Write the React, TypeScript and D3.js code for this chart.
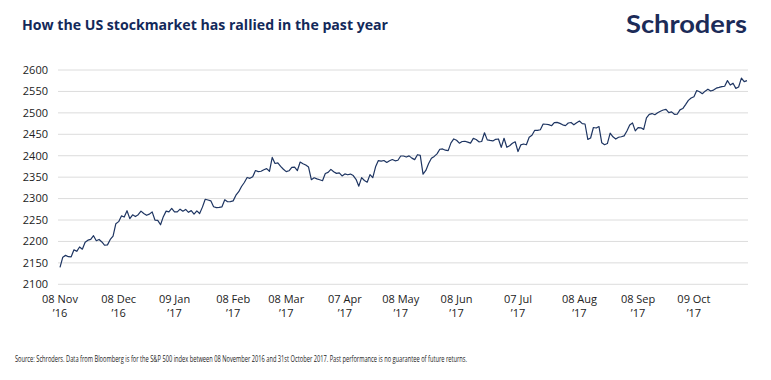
import React from "react";
import * as d3 from "d3";

// S&P 500 daily closes, 08 Nov 2016 – 31 Oct 2017 (one value per trading day)
const nov16 = [2139.56, 2163.26, 2167.48, 2164.45, 2164.2, 2180.39, 2176.94, 2187.12, 2181.9, 2198.18, 2202.94, 2204.72, 2213.35, 2201.72, 2204.66, 2198.81];
const dec16 = [2191.08, 2191.95, 2204.71, 2212.23, 2241.35, 2246.19, 2259.53, 2256.96, 2271.72, 2253.28, 2262.03, 2258.07, 2262.53, 2270.76, 2265.18, 2260.96, 2263.79, 2268.88, 2249.92, 2249.26, 2238.83];
const jan17 = [2257.83, 2270.75, 2269.0, 2276.98, 2268.9, 2268.9, 2275.32, 2270.44, 2274.64, 2267.89, 2271.89, 2263.69, 2271.31, 2265.2, 2280.07, 2298.37, 2296.68, 2294.69, 2280.9, 2278.87];
const feb17 = [2279.55, 2280.85, 2297.42, 2292.56, 2293.08, 2294.67, 2307.87, 2316.1, 2328.25, 2337.58, 2349.25, 2347.22, 2351.16, 2365.38, 2362.82, 2363.81, 2367.34, 2369.75, 2363.64];
const mar17 = [2395.96, 2381.92, 2383.12, 2375.31, 2368.39, 2362.98, 2364.87, 2372.6, 2373.47, 2365.45, 2385.26, 2381.38, 2378.25, 2373.47, 2344.02, 2348.45, 2345.96, 2343.98, 2341.59, 2358.57, 2361.13, 2368.06, 2362.72];
const apr17 = [2358.84, 2360.16, 2352.95, 2357.49, 2355.54, 2357.16, 2353.78, 2344.93, 2328.95, 2349.01, 2342.19, 2338.17, 2355.84, 2348.69, 2374.15, 2388.61, 2387.45, 2388.77, 2384.2];
const may17 = [2388.33, 2391.17, 2388.13, 2389.52, 2399.29, 2399.38, 2396.92, 2399.63, 2394.44, 2390.9, 2402.32, 2400.67, 2357.03, 2365.72, 2381.73, 2394.02, 2398.42, 2404.39, 2415.07, 2415.82, 2412.91, 2411.8];
const jun17 = [2430.06, 2439.07, 2436.1, 2429.33, 2433.14, 2433.79, 2431.77, 2429.39, 2440.35, 2437.92, 2432.46, 2433.15, 2453.46, 2437.03, 2435.61, 2434.5, 2438.3, 2439.07, 2419.38, 2440.69, 2419.7, 2423.41];
const jul17 = [2429.01, 2432.54, 2409.75, 2425.18, 2427.43, 2425.53, 2443.25, 2447.83, 2459.27, 2459.14, 2460.61, 2473.83, 2473.45, 2472.54, 2469.91, 2477.13, 2477.83, 2475.42, 2472.1, 2470.3];
const aug17 = [2476.35, 2477.57, 2472.16, 2476.83, 2480.91, 2474.92, 2474.02, 2438.21, 2441.32, 2465.84, 2464.61, 2468.11, 2430.01, 2425.55, 2428.37, 2452.51, 2444.04, 2438.97, 2443.05, 2444.24, 2446.3, 2457.59, 2471.65];
const sep17 = [2476.55, 2457.85, 2465.54, 2465.1, 2461.43, 2488.11, 2496.48, 2498.37, 2495.62, 2500.23, 2503.87, 2506.65, 2508.24, 2500.6, 2502.22, 2496.66, 2496.84, 2507.04, 2510.06, 2519.36];
const oct17 = [2529.12, 2534.58, 2537.74, 2552.07, 2549.33, 2544.73, 2550.64, 2555.24, 2550.93, 2553.17, 2557.64, 2559.36, 2561.26, 2562.1, 2575.21, 2564.98, 2569.13, 2557.15, 2560.4, 2581.07, 2572.83, 2575.26];

const closes = [...nov16, ...dec16, ...jan17, ...feb17, ...mar17, ...apr17, ...may17, ...jun17, ...jul17, ...aug17, ...sep17, ...oct17];

const yTicks = [2100, 2150, 2200, 2250, 2300, 2350, 2400, 2450, 2500, 2550, 2600];
const tickDay = ["08 Nov", "08 Dec", "09 Jan", "08 Feb", "08 Mar", "07 Apr", "08 May", "08 Jun", "07 Jul", "08 Aug", "08 Sep", "09 Oct"];
const tickYear = ["\u201916", "\u201916", "\u201917", "\u201917", "\u201917", "\u201917", "\u201917", "\u201917", "\u201917", "\u201917", "\u201917", "\u201917"];
const tickIndex = [0, 21, 41, 62, 81, 102, 122, 142, 164, 186, 207, 227];

const TITLE = "How the US stockmarket has rallied in the past year";
const SOURCE = "Source: Schroders. Data from Bloomberg is for the S&P 500 index between 08 November 2016 and 31st October 2017. Past performance is no guarantee of future returns.";

const W = 771;
const H = 380;
const FONT = "'Open Sans', 'Noto Sans', sans-serif";
const NAVY = "#1e3562";

export default function App() {
  const x = d3.scaleLinear().domain([0, closes.length - 1]).range([60, 747]);
  const y = d3.scaleLinear().domain([2100, 2600]).range([284.3, 70]);
  const line = d3
    .line<number>()
    .x((_, i) => x(i))
    .y((d) => y(d));

  return (
    <svg
      width={W}
      height={H}
      viewBox={`0 0 ${W} ${H}`}
      style={{ position: "absolute", left: 0, top: 0, background: "#fff" }}
    >
      <rect width={W} height={H} fill="#fff" />
      <text x={22} y={30} fontFamily={FONT} fontWeight={700} fontSize={14} fill="#13295a" textLength={366} lengthAdjust="spacingAndGlyphs">
        {TITLE}
      </text>
      <text
        x={626}
        y={32.5}
        fontFamily="Lato, 'Open Sans', sans-serif"
        fontWeight={700}
        fontSize={25}
        fill="#1c2b58"
        textLength={121}
        lengthAdjust="spacingAndGlyphs"
      >
        Schroders
      </text>

      {yTicks.map((t) => (
        <g key={t}>
          <line x1={58} x2={748} y1={y(t)} y2={y(t)} stroke="#dcdcdc" strokeWidth={1} />
          <text
            x={48}
            y={y(t)}
            dy="0.35em"
            textAnchor="end"
            fontFamily={FONT}
            fontSize={11}
            fill="#222"
          >
            {t}
          </text>
        </g>
      ))}

      <path d={line(closes) || ""} fill="none" stroke={NAVY} strokeWidth={1.2} strokeLinejoin="round" />

      {tickIndex.map((idx, k) => (
        <g key={k} transform={`translate(${x(idx)},0)`}>
          <text y={303} textAnchor="middle" fontFamily={FONT} fontSize={11} fill="#222">
            {tickDay[k]}
          </text>
          <text y={317} textAnchor="middle" fontFamily={FONT} fontSize={11} fill="#222">
            {tickYear[k]}
          </text>
        </g>
      ))}

      <text
        x={15}
        y={362}
        fontFamily={FONT}
        fontSize={9.5}
        fill="#222"
        textLength={452}
        lengthAdjust="spacingAndGlyphs"
      >
        {SOURCE}
      </text>
    </svg>
  );
}
